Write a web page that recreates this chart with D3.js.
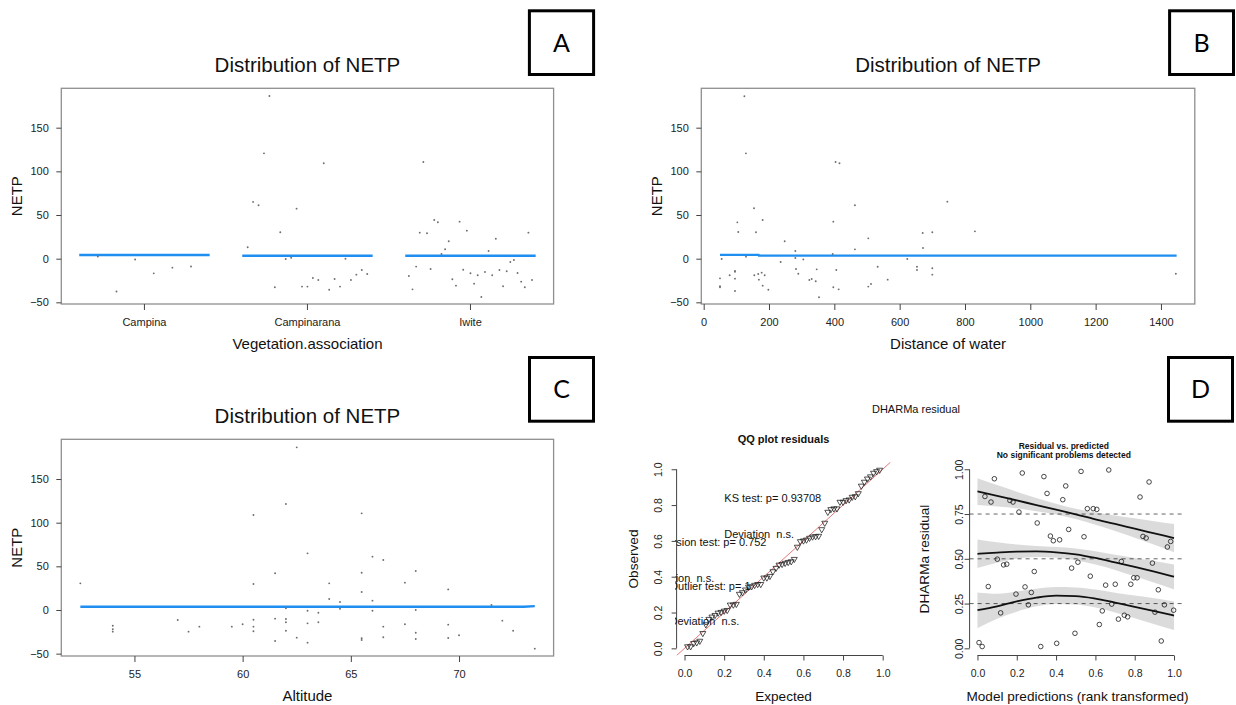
<!DOCTYPE html>
<html><head><meta charset="utf-8">
<script src="https://cdn.jsdelivr.net/npm/d3@7"></script>
<style>
body{margin:0;background:#fff;}
svg{display:block;}
</style></head><body>
<svg id="chart" width="1236" height="705"></svg>
<script>
// ---------------- DATA ----------------
// Panel A
const vegCategories = ["Campina", "Campinarana", "Iwite"];
const netpCampina = [2.5, -37.6, -1, -16.8, -10.3, -9];
const netpCampinarana = [13, 65, 61.1, 120.6, 186.3, -32.8, 30.2, -0.4, 1.1, 57.3, -32, -32, -22.1, -24.4, 109.2, -35.5, -23.3, -32, 0, -24.4, -18.3, -13, -17.6];
const netpIwite = [-19.8, -35.1, -9.1, 29.8, 110.7, 29.1, -11.8, 44.3, 41.7, 5.4, 10.8, 19.9, -23.6, -30.9, 42.4, -12.6, 32.1, -16.7, -28.6, -19, -43.9, -15.2, 8.8, -19, 22.9, -12.9, -31.6, -14.4, -3.8, -1.5, -16.4, -26.3, -32.8, 29.8, -24.4];
const vegFitted = [4.2, 3.4, 3.4];
const netpTicks = [-50, 0, 50, 100, 150];

// Panel B
const distanceWater = [49.9, 49.9, 49.9, 55, 79.5, 95.8, 95.8, 95.8, 95.8, 103, 106, 124.6, 129.4, 129.5, 154, 155, 160, 167, 169, 177.5, 180.6, 180.6, 186.7, 198, 235.7, 248, 280.6, 280.6, 282.6, 289.7, 305, 323.4, 330.7, 343, 346, 353, 395, 396.9, 396.9, 403.8, 406, 413.3, 415.8, 463, 463, 504, 504, 512.3, 532.7, 563.3, 623.4, 653, 653, 670.5, 671.5, 700, 700, 700, 746, 830.4, 1445.6];
const netpDistance = [-22.5, -31.5, -32.8, -0.4, -19, -14, -15, -22.9, -37, 41.6, 30.6, 186, 120.6, 2.3, 57.7, -19, 30.2, -17.5, -24, -16, 44.3, -30.9, -19, -35.5, -3.8, 19.9, 8.8, 0.8, -11.8, -17.2, -0.8, -24.4, -23.3, -25.9, -12.2, -44.2, 5.4, 42.4, -32.8, 110.7, -13, -35.1, 109.2, 61.1, 10.7, 23.3, -32, -29, -9.2, -24, -0.4, -9.2, -13, 29.4, 12.3, 30.2, -11, -18.3, 65.3, 31.3, -17.2];
const distFitX = [50, 168, 169, 1448];
const distFitY = [4.3, 4.3, 3.5, 3.5];
const distanceTicks = [0, 200, 400, 600, 800, 1000, 1200, 1400];

// Panel C
const altitude = [52.5, 54, 54, 54, 57, 57.5, 58, 59.5, 60, 60.5, 60.5, 60.5, 60.5, 60.5, 61.5, 61.5, 61.5, 62, 62, 62, 62, 62, 62.5, 62.5, 63, 63, 63, 63, 63.5, 63.5, 64, 64, 64.5, 64.5, 65.5, 65.5, 65.5, 65.5, 65.5, 66, 66, 66, 66.5, 66.5, 66.5, 67.5, 67.5, 68, 68, 68, 68, 69.5, 69.5, 69.5, 70, 71.5, 72, 72.5, 73.5];
const netpAltitude = [30.5, -18, -22.1, -24.8, -11.5, -24.8, -19.1, -19.1, -16.4, 108.8, 29.8, -11.1, -19.1, -24.4, 42, -9.9, -35.5, 121.4, 1.9, -10.3, -14.1, -23.7, 186.3, -31.7, 64.9, -0.8, -15.3, -37.4, -3.1, -14.1, 30.5, 12.6, 9.2, 1.5, 110.7, 42.7, 20.6, -32.4, -34.4, 61.1, 10.7, -0.8, 57.3, -19.1, -31.3, 31.3, -16.4, 44.7, 0, -26, -33.2, 23.6, -16.8, -32, -29, 5.7, -12.2, -23.7, -44.3];
const altFitX = [52.5, 73.0, 73.5];
const altFitY = [3.7, 3.7, 4.4];
const altitudeTicks = [55, 60, 65, 70];

// Panel D
const rankPredictions = [0.008, 0.024, 0.086, 0.038, 0.069, 0.055, 0.101, 0.118, 0.133, 0.149, 0.165, 0.181, 0.196, 0.211, 0.228, 0.242, 0.259, 0.274, 0.289, 0.304, 0.322, 0.338, 0.354, 0.371, 0.386, 0.403, 0.418, 0.434, 0.449, 0.464, 0.479, 0.496, 0.511, 0.527, 0.542, 0.559, 0.574, 0.589, 0.607, 0.620, 0.635, 0.652, 0.668, 0.683, 0.701, 0.717, 0.732, 0.747, 0.764, 0.780, 0.795, 0.812, 0.827, 0.842, 0.858, 0.873, 0.890, 0.903, 0.920, 0.935, 0.951, 0.966, 0.983, 0.998];
const dharmaResiduals = [0.032, 0.010, 0.947, 0.848, 0.817, 0.345, 0.498, 0.198, 0.466, 0.470, 0.826, 0.817, 0.303, 0.761, 0.979, 0.343, 0.243, 0.312, 0.429, 0.700, 0.010, 0.959, 0.865, 0.627, 0.601, 0.028, 0.606, 0.830, 0.907, 0.664, 0.448, 0.084, 0.481, 0.988, 0.623, 0.780, 0.403, 0.780, 0.776, 0.133, 0.209, 0.353, 0.996, 0.247, 0.358, 0.163, 0.485, 0.185, 0.176, 0.358, 0.394, 0.394, 0.845, 0.625, 0.616, 0.929, 0.476, 0.202, 0.327, 0.041, 0.243, 0.566, 0.597, 0.213];
const quantGrid = [0, 0.1, 0.2, 0.3, 0.4, 0.5, 0.6, 0.7, 0.8, 0.9, 1.0];
const q75 = [0.876, 0.852, 0.826, 0.800, 0.774, 0.748, 0.720, 0.695, 0.668, 0.642, 0.616];
const q75Lo = [0.800, 0.792, 0.782, 0.765, 0.748, 0.722, 0.690, 0.655, 0.618, 0.578, 0.537];
const q75Hi = [0.950, 0.912, 0.875, 0.840, 0.808, 0.780, 0.760, 0.742, 0.726, 0.710, 0.694];
const q50 = [0.528, 0.535, 0.540, 0.541, 0.536, 0.525, 0.505, 0.480, 0.455, 0.428, 0.400];
const q50Lo = [0.448, 0.478, 0.500, 0.510, 0.506, 0.492, 0.468, 0.438, 0.402, 0.366, 0.328];
const q50Hi = [0.608, 0.592, 0.580, 0.572, 0.566, 0.558, 0.542, 0.522, 0.505, 0.488, 0.468];
const q25 = [0.213, 0.235, 0.262, 0.283, 0.294, 0.292, 0.278, 0.255, 0.232, 0.208, 0.183];
const q25Lo = [0.112, 0.165, 0.205, 0.235, 0.248, 0.245, 0.228, 0.200, 0.168, 0.135, 0.103];
const q25Hi = [0.312, 0.305, 0.318, 0.333, 0.342, 0.340, 0.328, 0.310, 0.295, 0.280, 0.262];
const quantileLevels = [0.25, 0.5, 0.75];
const unitTicks = [0, 0.2, 0.4, 0.6, 0.8, 1.0];
const residTicks = [0, 0.25, 0.5, 0.75, 1.0];
const qqLegend = ["KS test: p= 0.93708", "Deviation  n.s.", "Dispersion test: p= 0.752", "Deviation  n.s.", "Outlier test: p= 1", "Deviation  n.s."];

// ---------------- DRAWING ----------------
const FONT = '"Liberation Sans", Arial, Helvetica, sans-serif';
const svg = d3.select("#chart").attr("font-family", FONT);
svg.append("rect").attr("width", 1236).attr("height", 705).attr("fill", "#fff");

const BLUE = "#1f8ef1";
const PT = "#6e6e6e";

function styleAxis(a, size) {
  a.attr("font-family", FONT).attr("font-size", size);
  a.select(".domain").remove();
  a.selectAll(".tick line").attr("stroke", "#444");
  a.selectAll(".tick text").attr("fill", "#222");
}

function netpFrame(P, y, titleY, ylabX) {
  const g = svg.append("g");
  g.append("rect").attr("x", P.x0).attr("y", P.y0).attr("width", P.x1 - P.x0).attr("height", P.y1 - P.y0)
    .attr("fill", "none").attr("stroke", "#8f8f8f").attr("stroke-width", 1.3);
  const ay = g.append("g").attr("transform", `translate(${P.x0},0)`)
    .call(d3.axisLeft(y).tickValues(netpTicks).tickSize(5).tickSizeOuter(0).tickPadding(7.5));
  styleAxis(ay, 11);
  g.append("text").attr("x", (P.x0 + P.x1) / 2).attr("y", titleY).attr("text-anchor", "middle")
    .attr("font-size", 20.5).attr("fill", "#111").text("Distribution of NETP");
  g.append("text").attr("transform", `translate(${ylabX},${(P.y0 + P.y1) / 2}) rotate(-90)`)
    .attr("text-anchor", "middle").attr("font-size", 15).attr("fill", "#111").text("NETP");
  return g;
}

function labelBox(letter, x0, y0, x1, y1) {
  svg.append("rect").attr("x", x0 + 1.5).attr("y", y0 + 1.5).attr("width", x1 - x0 - 3).attr("height", y1 - y0 - 3)
    .attr("fill", "#fff").attr("stroke", "#000").attr("stroke-width", 3);
  svg.append("text").attr("x", (x0 + x1) / 2).attr("y", (y0 + y1) / 2).attr("dy", "0.36em")
    .attr("text-anchor", "middle").attr("font-family", "Lato, 'Open Sans', sans-serif")
    .attr("font-size", 25).attr("fill", "#000").text(letter);
}

// ---- Panel A ----
{
  const P = {x0: 61.3, x1: 553.6, y0: 88.3, y1: 304};
  const y = d3.scaleLinear().domain([-51.9, 195.1]).range([P.y1, P.y0]);
  const x = d3.scaleBand().domain(vegCategories).range([P.x0, P.x1]).paddingInner(0.2).paddingOuter(0.11);
  const g = netpFrame(P, y, 71.7, 21.8);
  const ax = g.append("g").attr("transform", `translate(0,${P.y1})`)
    .call(d3.axisBottom(x).tickSize(6).tickSizeOuter(0).tickPadding(8));
  styleAxis(ax, 11);
  g.append("text").attr("x", (P.x0 + P.x1) / 2).attr("y", 349).attr("text-anchor", "middle")
    .attr("font-size", 15).attr("fill", "#111").text("Vegetation.association");
  const groups = [netpCampina, netpCampinarana, netpIwite];
  vegCategories.forEach((c, k) => {
    g.append("line").attr("x1", x(c)).attr("x2", x(c) + x.bandwidth())
      .attr("y1", y(vegFitted[k])).attr("y2", y(vegFitted[k]))
      .attr("stroke", BLUE).attr("stroke-width", 2.4);
    const vals = groups[k];
    g.selectAll(null).data(vals).join("circle")
      .attr("cx", (d, i) => x(c) + (i + 1) * x.bandwidth() / (vals.length + 1))
      .attr("cy", d => y(d)).attr("r", 0.95).attr("fill", PT);
  });
  labelBox("A", 527.9, 9.3, 595.1, 76);
}

// ---- Panel B ----
{
  const P = {x0: 701.3, x1: 1194.8, y0: 88.3, y1: 304};
  const y = d3.scaleLinear().domain([-51.9, 195.1]).range([P.y1, P.y0]);
  const x = d3.scaleLinear().domain([-7.3, 1503.6]).range([P.x0, P.x1]);
  const g = netpFrame(P, y, 71.7, 662.4);
  const ax = g.append("g").attr("transform", `translate(0,${P.y1})`)
    .call(d3.axisBottom(x).tickValues(distanceTicks).tickFormat(d3.format("d")).tickSize(6).tickSizeOuter(0).tickPadding(8));
  styleAxis(ax, 11);
  g.append("text").attr("x", (P.x0 + P.x1) / 2).attr("y", 349).attr("text-anchor", "middle")
    .attr("font-size", 15).attr("fill", "#111").text("Distance of water");
  const fit = distFitX.map((d, i) => [d, distFitY[i]]);
  g.append("path").attr("d", d3.line().x(d => x(d[0])).y(d => y(d[1]))(fit))
    .attr("fill", "none").attr("stroke", BLUE).attr("stroke-width", 2.4);
  g.selectAll(null).data(distanceWater).join("circle")
    .attr("cx", d => x(d)).attr("cy", (d, i) => y(netpDistance[i])).attr("r", 0.95).attr("fill", PT);
  labelBox("B", 1168.1, 9.3, 1235, 76);
}

// ---- Panel C ----
{
  const P = {x0: 61.3, x1: 553.6, y0: 439.3, y1: 656};
  const y = d3.scaleLinear().domain([-52.7, 195.5]).range([P.y1, P.y0]);
  const x = d3.scaleLinear().domain([51.62, 74.37]).range([P.x0, P.x1]);
  const g = netpFrame(P, y, 422.7, 21.8);
  const ax = g.append("g").attr("transform", `translate(0,${P.y1})`)
    .call(d3.axisBottom(x).tickValues(altitudeTicks).tickFormat(d3.format("d")).tickSize(6).tickSizeOuter(0).tickPadding(8));
  styleAxis(ax, 11);
  g.append("text").attr("x", (P.x0 + P.x1) / 2).attr("y", 700.5).attr("text-anchor", "middle")
    .attr("font-size", 15).attr("fill", "#111").text("Altitude");
  const fit = altFitX.map((d, i) => [d, altFitY[i]]);
  g.append("path").attr("d", d3.line().x(d => x(d[0])).y(d => y(d[1]))(fit))
    .attr("fill", "none").attr("stroke", BLUE).attr("stroke-width", 2.4);
  g.selectAll(null).data(altitude).join("circle")
    .attr("cx", d => x(d)).attr("cy", (d, i) => y(netpAltitude[i])).attr("r", 0.95).attr("fill", PT);
  labelBox("C", 528, 356, 595, 422.7);
}

// ---- Panel D ----
function rAxes(g, x, y, xTicks, yTicks, xFmt, yFmt, yLabOffset) {
  const x0 = x.range()[0], yb = y.range()[0];
  const ax = g.append("g").attr("transform", `translate(0,${yb})`)
    .call(d3.axisBottom(x).tickValues(xTicks).tickFormat(xFmt).tickSize(5).tickSizeOuter(0).tickPadding(9.3));
  styleAxis(ax, 10.5);
  g.append("line").attr("x1", x(xTicks[0])).attr("x2", x(xTicks[xTicks.length - 1])).attr("y1", yb).attr("y2", yb).attr("stroke", "#444");
  const ay = g.append("g").attr("transform", `translate(${x0},0)`)
    .call(d3.axisLeft(y).tickValues(yTicks).tickFormat(yFmt).tickSize(5).tickSizeOuter(0));
  styleAxis(ay, 10.5);
  ay.selectAll(".tick text").attr("transform", "rotate(-90)").attr("x", 0).attr("dy", 0)
    .attr("y", -yLabOffset).attr("text-anchor", "middle");
  g.append("line").attr("x1", x0).attr("x2", x0).attr("y1", y(yTicks[0])).attr("y2", y(yTicks[yTicks.length - 1])).attr("stroke", "#444");
}

{
  svg.append("text").attr("x", 916).attr("y", 412.5).attr("text-anchor", "middle").attr("font-size", 11)
    .attr("fill", "#111").text("DHARMa residual");

  // QQ plot
  const g = svg.append("g");
  const x = d3.scaleLinear().domain([-0.04, 1.04]).range([676.6, 890.6]);
  const y = d3.scaleLinear().domain([-0.04, 1.04]).range([655.5, 462.1]);
  g.append("text").attr("x", 783.5).attr("y", 443.3).attr("text-anchor", "middle").attr("font-size", 11)
    .attr("font-weight", "bold").attr("fill", "#111").text("QQ plot residuals");
  rAxes(g, x, y, unitTicks, unitTicks, d3.format(".1f"), d3.format(".1f"), 14.9);
  g.append("text").attr("x", 783.5).attr("y", 700.7).attr("text-anchor", "middle").attr("font-size", 13.6)
    .attr("fill", "#111").text("Expected");
  g.append("text").attr("transform", `translate(637.6,559) rotate(-90)`).attr("text-anchor", "middle")
    .attr("font-size", 13.6).attr("fill", "#111").text("Observed");

  const clip = svg.append("defs").append("clipPath").attr("id", "qqclip");
  clip.append("rect").attr("x", 675).attr("y", 462.1).attr("width", 890.6 - 675).attr("height", 655.5 - 462.1);
  const pg = g.append("g").attr("clip-path", "url(#qqclip)");
  pg.append("line").attr("x1", x(-0.04)).attr("y1", y(-0.04)).attr("x2", x(1.04)).attr("y2", y(1.04))
    .attr("stroke", "#e06a6a").attr("stroke-width", 0.9);
  const sorted = dharmaResiduals.slice().sort(d3.ascending);
  const n = sorted.length;
  const tri = "M-3,-1.75L3,-1.75L0,3.45Z";
  pg.selectAll(null).data(sorted).join("path")
    .attr("d", tri)
    .attr("transform", (d, i) => `translate(${x((i + 1) / (n + 1))},${y(d)})`)
    .attr("fill", "none").attr("stroke", "#1a1a1a").attr("stroke-width", 0.75);
  const leg = [
    {t: qqLegend[0], x: 724.3, y: 501.7},
    {t: qqLegend[1], x: 724.3, y: 537.7},
    {t: qqLegend[2], x: 644.5, y: 545.7},
    {t: qqLegend[3], x: 644.5, y: 581.7},
    {t: qqLegend[4], x: 669.5, y: 590},
    {t: qqLegend[5], x: 669.5, y: 625}
  ];
  pg.selectAll(null).data(leg).join("text")
    .attr("x", d => d.x).attr("y", d => d.y).attr("text-anchor", "start")
    .attr("font-size", 11).attr("fill", "#111").style("white-space", "pre").text(d => d.t);

  // Residual vs predicted
  const h = svg.append("g");
  const rx = d3.scaleLinear().domain([-0.04, 1.04]).range([969.6, 1181.9]);
  const ry = y;
  h.append("text").attr("x", 1063.8).attr("y", 449.3).attr("text-anchor", "middle").attr("font-size", 8.5)
    .attr("font-weight", "bold").attr("fill", "#111").text("Residual vs. predicted");
  h.append("text").attr("x", 1063.8).attr("y", 457.5).attr("text-anchor", "middle").attr("font-size", 8.5)
    .attr("font-weight", "bold").attr("fill", "#111").text("No significant problems detected");
  rAxes(h, rx, ry, unitTicks, residTicks, d3.format(".1f"), d3.format(".2f"), 6.8);
  h.append("text").attr("x", 1077.5).attr("y", 700.7).attr("text-anchor", "middle").attr("font-size", 13.6)
    .attr("fill", "#111").text("Model predictions (rank transformed)");
  h.append("text").attr("transform", `translate(928.5,559) rotate(-90)`).attr("text-anchor", "middle")
    .attr("font-size", 13.6).attr("fill", "#111").text("DHARMa residual");

  h.selectAll(null).data(rankPredictions).join("circle")
    .attr("cx", d => rx(d)).attr("cy", (d, i) => ry(dharmaResiduals[i])).attr("r", 2.3)
    .attr("fill", "none").attr("stroke", "#1a1a1a").attr("stroke-width", 0.8);
  h.selectAll(null).data(quantileLevels).join("line")
    .attr("x1", rx(-0.04)).attr("x2", rx(1.04)).attr("y1", d => ry(d)).attr("y2", d => ry(d))
    .attr("stroke", "#222").attr("stroke-width", 0.7).attr("stroke-dasharray", "4,4");
  const bands = [[q25, q25Lo, q25Hi], [q50, q50Lo, q50Hi], [q75, q75Lo, q75Hi]];
  const area = d3.area().curve(d3.curveMonotoneX).x(d => rx(d[0])).y0(d => ry(d[1])).y1(d => ry(d[2]));
  const line = d3.line().curve(d3.curveMonotoneX).x(d => rx(d[0])).y(d => ry(d[1]));
  bands.forEach(([m, lo, hi]) => {
    const pts = quantGrid.map((q, i) => [q, lo[i], hi[i]]);
    h.append("path").attr("d", area(pts)).attr("fill", "rgba(0,0,0,0.14)").attr("stroke", "none");
  });
  bands.forEach(([m]) => {
    const pts = quantGrid.map((q, i) => [q, m[i]]);
    h.append("path").attr("d", line(pts)).attr("fill", "none").attr("stroke", "#111").attr("stroke-width", 1.8);
  });
  labelBox("D", 1167, 356, 1234, 422.7);
}
</script>
</body></html>
